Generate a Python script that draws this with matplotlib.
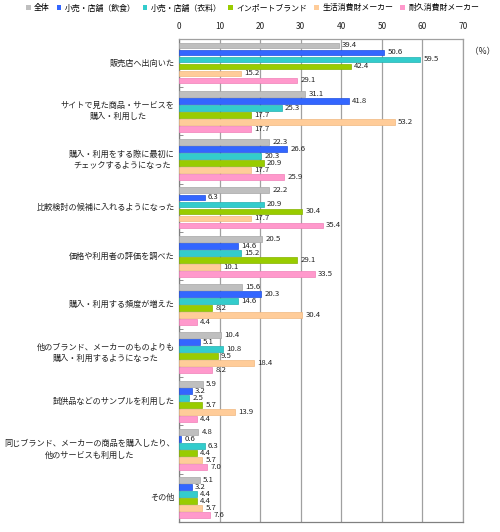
import matplotlib
matplotlib.use('Agg')
import matplotlib.pyplot as plt
from matplotlib.patches import Patch
import numpy as np

plt.rcParams['font.family'] = ['Noto Sans CJK JP', 'DejaVu Sans']

categories = [
    '販売店へ出向いた',
    'サイトで見た商品・サービスを\n購入・利用した',
    '購入・利用をする際に最初に\nチェックするようになった',
    '比較検討の候補に入れるようになった',
    '価格や利用者の評価を調べた',
    '購入・利用する頻度が増えた',
    '他のブランド、メーカーのものよりも\n購入・利用するようになった',
    '試供品などのサンプルを利用した',
    '同じブランド、メーカーの商品を購入したり、\n他のサービスも利用した',
    'その他',
]
series_names = ['全体', '小売・店舗（飲食）', '小売・店舗（衣料）',
                'インポートブランド', '生活消費財メーカー', '耐久消費財メーカー']
zentai = [39.4, 31.1, 22.3, 22.2, 20.5, 15.6, 10.4, 5.9, 4.8, 5.1]
inshoku = [50.6, 41.8, 26.6, 6.3, 14.6, 20.3, 5.1, 3.2, 0.6, 3.2]
iryo = [59.5, 25.3, 20.3, 20.9, 15.2, 14.6, 10.8, 2.5, 6.3, 4.4]
import_brand = [42.4, 17.7, 20.9, 30.4, 29.1, 8.2, 9.5, 5.7, 4.4, 4.4]
seikatsu = [15.2, 53.2, 17.7, 17.7, 10.1, 30.4, 18.4, 13.9, 5.7, 5.7]
taikyu = [29.1, 17.7, 25.9, 35.4, 33.5, 4.4, 8.2, 4.4, 7.0, 7.6]
xticks = [0, 10, 20, 30, 40, 50, 60, 70]

series = [zentai, inshoku, iryo, import_brand, seikatsu, taikyu]
colors = ['#BFBFBF', '#3366FF', '#33CCCC', '#99CC00', '#FFCC99', '#FF99CC']
edges = ['#A6A6A6', '#1F4FE0', '#22B0B0', '#86B300', '#F0B880', '#F080B8']

fig = plt.figure(figsize=(5.0, 5.32), dpi=100)
ax = fig.add_axes([0.358, 0.019, 0.568, 0.908])

y = np.arange(len(categories))
pitch = 0.145
h = 0.12
for j, vals in enumerate(series):
    pos = y + (j - 2.5) * pitch
    ax.barh(pos, vals, height=h, color=colors[j], edgecolor=edges[j],
            linewidth=0.5, zorder=3)
    for p, v in zip(pos, vals):
        ax.text(v + 0.8, p, f'{v:.1f}', va='center', ha='left',
                fontsize=5.6, color='#222222', zorder=4)

ax.set_xlim(0, 70)
ax.set_ylim(len(categories) - 0.5, -0.5)
ax.set_xticks(xticks)
ax.xaxis.tick_top()
ax.tick_params(axis='x', length=0, labelsize=6, pad=6, colors='#222222')
ax.grid(axis='x', color='#A0A0A0', linewidth=0.9, zorder=0)
ax.set_axisbelow(True)

ax.set_yticks([])
ax.set_yticks(np.arange(0.5, len(categories) - 0.5, 1), minor=True)
ax.tick_params(axis='y', which='minor', direction='in', length=3,
               color='#808080', labelleft=False)

for s in ax.spines.values():
    s.set_color('#A0A0A0')
    s.set_linewidth(0.9)
ax.spines['left'].set_color('#808080')
ax.spines['bottom'].set_color('#808080')

for i, c in enumerate(categories):
    ax.text(-0.015, i, c, transform=ax.get_yaxis_transform(),
            ha='right', va='center', multialignment='center',
            fontsize=5.9, color='#222222', linespacing=1.3)

fig.text(0.966, 0.902, '（%）', ha='center', va='center', fontsize=6.2,
         color='#222222')

handles = [Patch(facecolor=c, edgecolor='none') for c in colors]
fig.legend(handles, series_names, loc='center', bbox_to_anchor=(0.505, 0.985),
           ncol=6, frameon=False, fontsize=5.7, handlelength=0.6,
           handleheight=0.6, handletextpad=0.4, columnspacing=0.9,
           borderaxespad=0)

fig.savefig('out.png', dpi=100)
